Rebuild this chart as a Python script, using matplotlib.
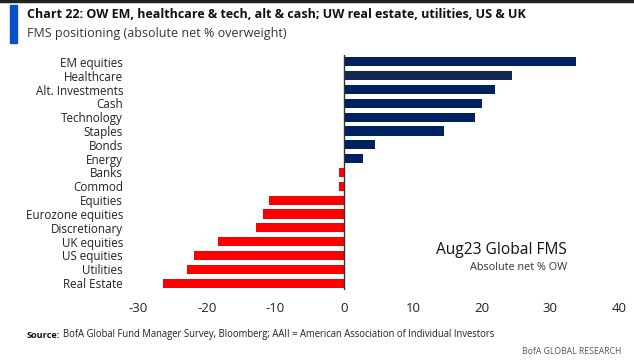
import matplotlib
matplotlib.use("Agg")
import matplotlib.pyplot as plt
from matplotlib.patches import Rectangle
from matplotlib.lines import Line2D

categories = ["EM equities", "Healthcare", "Alt. Investments", "Cash", "Technology",
              "Staples", "Bonds", "Energy", "Banks", "Commod", "Equities",
              "Eurozone equities", "Discretionary", "UK equities", "US equities",
              "Utilities", "Real Estate"]
values = [33.7, 24.5, 21.9, 20.0, 19.1, 14.6, 4.5, 2.7, -0.8, -0.8, -10.9,
          -11.8, -12.8, -18.3, -21.9, -22.8, -26.4]
xticks = [-30, -20, -10, 0, 10, 20, 30, 40]

plt.rcParams['font.family'] = ['Open Sans', 'DejaVu Sans']

W, H = 634, 364
fig = plt.figure(figsize=(W / 100, H / 100), dpi=100)

ax = fig.add_axes([138 / W, 1 - 290 / H, (619 - 138) / W, (290 - 55) / H])
colors = []
for i, v in enumerate(values):
    if v < 0:
        colors.append("#FF0000")
    elif i == 1:
        colors.append("#13284E")
    else:
        colors.append("#00215F")
ypos = list(range(len(categories)))
ax.barh(ypos, values, height=0.66, color=colors)
ax.set_xlim(-30, 40)
ax.set_ylim(len(categories) - 0.5, -0.5)
ax.set_yticks(ypos)
ax.set_yticklabels(categories, fontsize=8.4, color="#222222")
ax.set_xticks(xticks)
ax.set_xticklabels([str(t) for t in xticks], fontsize=9.5, color="#222222")
ax.tick_params(axis="both", length=0)
ax.tick_params(axis="x", pad=9)
ax.tick_params(axis="y", pad=10.8)
for s in ax.spines.values():
    s.set_visible(False)
ax.axvline(0, color="#333333", lw=1.0)

# annotation
fig.text(567 / W, 1 - 250 / H, "Aug23 Global FMS", fontsize=11.2, ha="right", va="center", color="#111111")
fig.text(567 / W, 1 - 268 / H, "Absolute net % OW", fontsize=7.8, ha="right", va="center", color="#333333")

# header
fig.add_artist(Line2D([0, 1], [1 - 1 / H, 1 - 1 / H], color="#222222", lw=2.5, transform=fig.transFigure))
fig.add_artist(Rectangle((10 / W, 1 - 43 / H), 7 / W, 38 / H, color="#0A4FC9", transform=fig.transFigure))
fig.text(27 / W, 1 - 15 / H, "Chart 22: OW EM, healthcare & tech, alt & cash; UW real estate, utilities, US & UK",
         fontsize=9.0, fontweight="bold", ha="left", va="center", color="#111111")
fig.text(27 / W, 1 - 34 / H, "FMS positioning (absolute net % overweight)",
         fontsize=9.0, ha="left", va="center", color="#333333")

# footer
fig.text(27 / W, 1 - 335 / H, "Source:", fontsize=6.6, fontweight="bold", ha="left", va="center", color="#111111")
fig.text(63 / W, 1 - 335 / H, "BofA Global Fund Manager Survey, Bloomberg; AAII = American Association of Individual Investors",
         fontsize=6.85, ha="left", va="center", color="#222222")
fig.text(621 / W, 1 - 352 / H, "BofA GLOBAL RESEARCH", fontsize=6.2, ha="right", va="center", color="#555555")

fig.savefig("out.png", dpi=100)
